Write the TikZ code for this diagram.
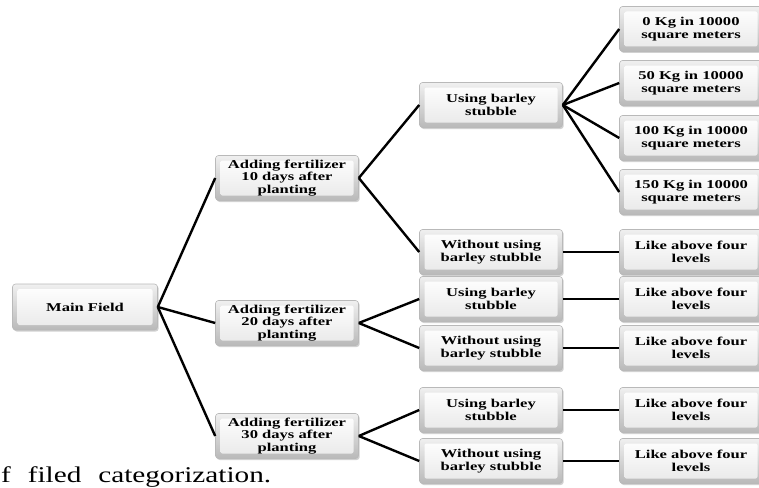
\documentclass[tikz,border=0pt]{standalone}
\usepackage{fontspec}
\setmainfont{Liberation Serif}
\newfontfamily\boxfont[FakeStretch=1.38]{Liberation Serif}
\newfontfamily\capfont[FakeStretch=1.3]{Liberation Serif}
\usetikzlibrary{shadows}
\tikzset{
  box/.style={rounded corners=3pt, minimum width=143pt, minimum height=45pt,
    inner sep=1pt, align=center, draw=gray!55, line width=0.6pt,
    top color=gray!12, bottom color=gray!55,
    drop shadow={shadow xshift=1.2pt, shadow yshift=-1.5pt, fill=gray!60, opacity=0.6},
    font=\boxfont\fontsize{12}{12.9}\selectfont\bfseries,
    path picture={
      \shade[top color=white, bottom color=gray!18, rounded corners=2pt]
        ([xshift=5pt,yshift=-5pt]path picture bounding box.north west)
        rectangle ([xshift=-5pt,yshift=5pt]path picture bounding box.south east);
    }},
  link/.style={line width=2.4pt, black}
}
\begin{document}
\begin{tikzpicture}[x=1pt,y=-1pt]
\useasboundingbox (0,0) rectangle (759,487);
\node[box, minimum width=145pt, minimum height=46pt] (main) at (85,307) {Main Field};
\node[box] (a10) at (287,178) {Adding fertilizer\\10 days after\\planting};
\node[box] (a20) at (287,323) {Adding fertilizer\\20 days after\\planting};
\node[box] (a30) at (287,436) {Adding fertilizer\\30 days after\\planting};
\node[box] (u1) at (491,105) {Using barley\\stubble};
\node[box] (w1) at (491,252) {Without using\\barley stubble};
\node[box] (u2) at (491,299) {Using barley\\stubble};
\node[box] (w2) at (491,348) {Without using\\barley stubble};
\node[box] (u3) at (491,410) {Using barley\\stubble};
\node[box] (w3) at (491,461) {Without using\\barley stubble};
\node[box] (k0) at (691,29) {0 Kg in 10000\\square meters};
\node[box] (k50) at (691,83) {50 Kg in 10000\\square meters};
\node[box] (k100) at (691,138) {100 Kg in 10000\\square meters};
\node[box] (k150) at (691,192) {150 Kg in 10000\\square meters};
\node[box] (l1) at (691,252) {Like above four\\levels};
\node[box] (l2) at (691,299) {Like above four\\levels};
\node[box] (l3) at (691,348) {Like above four\\levels};
\node[box] (l4) at (691,410) {Like above four\\levels};
\node[box] (l5) at (691,461) {Like above four\\levels};
\foreach \c in {a10,a20,a30} \draw[link] (main.east) -- (\c.west);
\foreach \c in {u1,w1} \draw[link] (a10.east) -- (\c.west);
\foreach \c in {u2,w2} \draw[link] (a20.east) -- (\c.west);
\foreach \c in {u3,w3} \draw[link] (a30.east) -- (\c.west);
\foreach \c in {k0,k50,k100,k150} \draw[link] (u1.east) -- (\c.west);
\draw[link] (w1) -- (l1);
\draw[link] (u2) -- (l2);
\draw[link] (w2) -- (l3);
\draw[link] (u3) -- (l4);
\draw[link] (w3) -- (l5);
\node[anchor=base west, inner sep=0pt, font=\capfont\fontsize{22.5}{26}\selectfont] (cap) at (1,482) {f\hspace{0.75em}filed\hspace{0.75em}categorization.};
\end{tikzpicture}
\end{document}
